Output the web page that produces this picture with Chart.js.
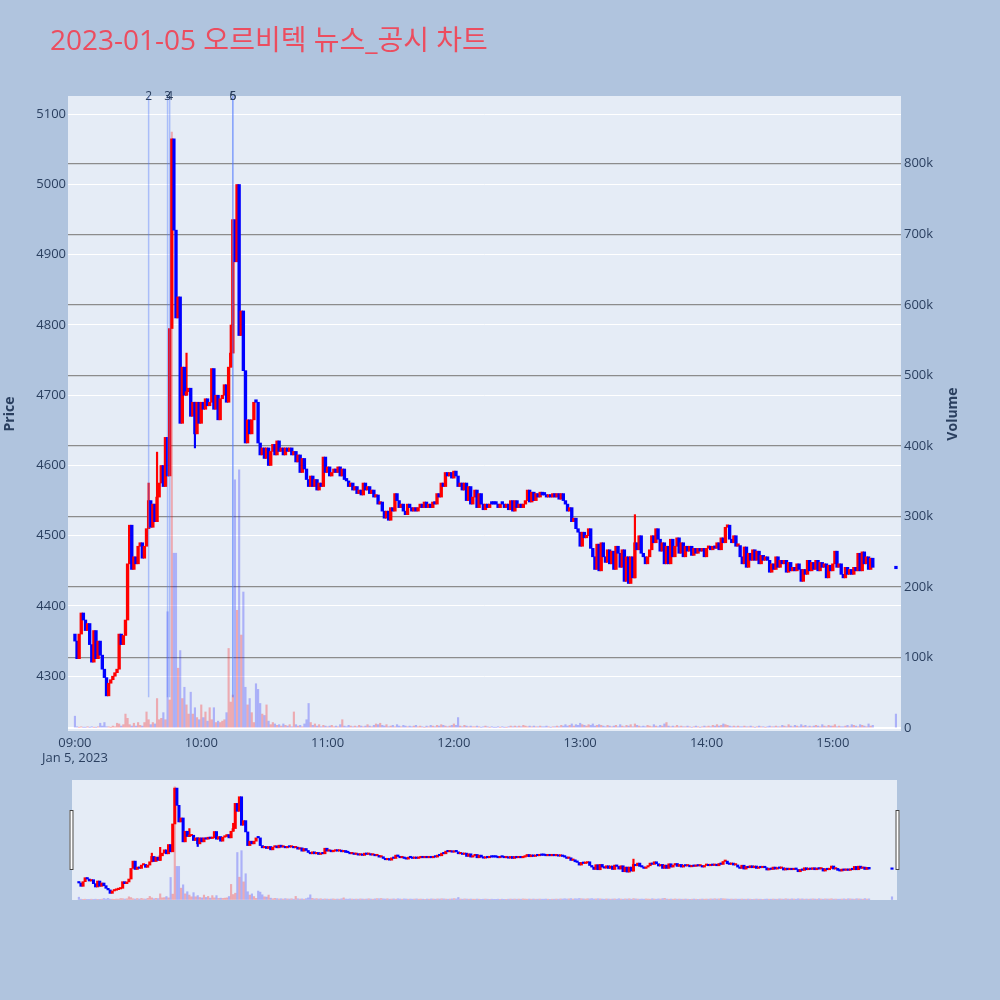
<!DOCTYPE html>
<html>
<head>
<meta charset="utf-8">
<script src="https://cdn.jsdelivr.net/npm/chart.js@4.4.0/dist/chart.umd.min.js"></script>
<style>
  html, body { margin: 0; padding: 0; background: #B0C4DE; }
  #wrap { position: relative; width: 1000px; height: 1000px; }
  #main { position: absolute; left: 0; top: 0; }
  #slider { position: absolute; left: 0; top: 770px; }
</style>
</head>
<body>
<div id="wrap">
  <canvas id="main" width="1000" height="800"></canvas>
  <canvas id="slider" width="1000" height="150"></canvas>
</div>
<script>
// 1분봉 데이터 (09:00 = 0분)
const chartTitle = '2023-01-05 오르비텍 뉴스_공시 차트';
const dateLabel = 'Jan 5, 2023';
const firstOpen = 4360;
const closes = [
  4350,4325,4360,4390,4380,4365,4375,4345,4320,4365,
  4325,4350,4330,4310,4298,4272,4290,4295,4300,4305,
  4310,4360,4345,4358,4380,4460,4515,4452,4470,4460,
  4485,4490,4468,4485,4510,4550,4512,4545,4520,4555,
  4575,4600,4570,4640,4585,4795,5065,4935,4810,4840,
  4660,4740,4700,4705,4710,4670,4690,4645,4690,4660,
  4690,4680,4695,4685,4690,4738,4680,4700,4665,4695,
  4700,4715,4690,4740,4760,4950,4890,5000,4785,4820,
  4735,4632,4665,4645,4665,4690,4690,4632,4615,4625,
  4610,4625,4600,4620,4630,4615,4635,4620,4625,4615,
  4625,4620,4625,4615,4620,4605,4615,4590,4610,4595,
  4580,4570,4585,4570,4580,4565,4575,4570,4612,4590,
  4598,4585,4590,4595,4590,4598,4585,4595,4580,4578,
  4570,4575,4565,4570,4560,4565,4558,4575,4565,4570,
  4560,4565,4555,4558,4545,4548,4535,4525,4535,4522,
  4540,4535,4560,4550,4540,4545,4535,4530,4545,4540,
  4535,4540,4535,4540,4545,4540,4548,4540,4545,4540,
  4548,4545,4560,4555,4575,4570,4590,4585,4590,4582,
  4592,4585,4570,4575,4565,4575,4550,4570,4545,4555,
  4565,4540,4560,4545,4537,4545,4540,4545,4545,4545,
  4545,4540,4545,4545,4540,4545,4537,4550,4535,4550,
  4540,4545,4540,4545,4550,4565,4548,4562,4550,4560,
  4555,4562,4558,4558,4555,4558,4555,4560,4555,4560,
  4552,4560,4550,4545,4535,4540,4520,4525,4510,4505,
  4485,4505,4497,4500,4510,4482,4470,4452,4488,4450,
  4490,4470,4462,4480,4460,4478,4452,4485,4475,4455,
  4480,4435,4470,4432,4470,4440,4490,4480,4500,4475,
  4470,4460,4470,4480,4500,4490,4510,4495,4478,4490,
  4460,4485,4460,4495,4470,4485,4497,4475,4490,4470,
  4485,4478,4485,4472,4482,4475,4482,4478,4482,4470,
  4482,4485,4480,4485,4482,4490,4480,4497,4490,4512,
  4515,4495,4490,4500,4485,4486,4470,4460,4484,4455,
  4475,4465,4480,4465,4478,4460,4472,4465,4470,4465,
  4448,4460,4452,4470,4455,4465,4460,4465,4448,4462,
  4450,4455,4450,4460,4452,4435,4452,4445,4465,4450,
  4462,4452,4465,4450,4462,4455,4460,4440,4458,4450,
  4460,4478,4455,4460,4445,4440,4455,4445,4452,4445,
  4455,4450,4475,4450,4477,4460,4470,4452,4468,4455
];
// 거래량 (천주)
const volumes = [
  17,2,1,2,1,1,2,1,2,1,
  1,2,7,3,8,2,2,1,3,2,
  7,6,3,5,20,14,5,3,7,3,
  8,4,3,8,23,12,5,8,6,42,
  12,14,22,12,165,40,845,248,248,85,
  110,42,58,33,20,51,20,29,15,12,
  33,15,23,10,29,12,29,8,10,8,
  10,12,22,113,37,47,352,167,366,132,
  193,58,33,42,22,8,63,55,35,20,
  18,33,10,5,8,6,4,5,3,6,
  4,3,5,2,23,5,3,4,2,6,
  12,35,8,4,6,3,5,2,4,3,
  2,3,4,2,3,2,5,12,3,2,
  4,3,2,3,2,4,3,2,3,5,
  3,2,4,6,5,7,4,3,5,2,
  3,4,2,5,3,2,4,3,2,3,
  2,3,4,2,3,2,1,3,2,4,
  3,2,4,3,5,4,3,2,3,4,
  6,4,15,3,2,4,3,2,3,2,
  2,3,2,1,2,3,2,1,2,1,
  1,2,1,2,1,1,2,3,2,3,
  2,3,2,4,3,2,3,2,3,2,
  2,3,2,2,3,2,1,2,2,3,
  2,4,3,5,3,4,6,3,5,4,
  7,5,4,3,5,4,6,3,4,5,
  4,3,2,4,3,2,3,4,2,5,
  3,2,4,3,5,2,6,4,3,2,
  3,2,4,3,2,5,3,2,4,3,
  6,8,3,2,3,2,4,2,3,2,
  2,3,2,1,2,3,2,1,2,3,
  2,3,2,4,3,5,3,4,6,5,
  4,3,2,3,2,3,2,2,3,2,
  2,3,2,1,2,3,2,2,1,2,
  3,2,2,3,2,2,4,3,2,5,
  3,2,4,3,2,5,3,4,2,3,
  2,3,4,3,2,5,3,2,4,3,
  3,5,2,3,2,2,3,4,2,5,
  4,3,2,5,4,3,2,6,3,4
];
// 15:30 동시호가
const auctionMinute = 390;
const auctionClose = 4453;
const auctionVolume = 20;
// 꼬리가 보이는 봉
const spikeMinutes = [35, 39, 53, 57, 74, 266];
const spikeHighs = [4575, 4619, 4760, null, 4800, 4530];
const spikeLows = [null, null, null, 4625, null, null];
// 뉴스/공시 시점
const newsMinutes = [35, 44, 45, 75, 75];
const newsLabels = ['2', '3', '4', '5', '6'];
const newsLineLow = 4270;
// 축 눈금
const priceTicks = [4300, 4400, 4500, 4600, 4700, 4800, 4900, 5000, 5100];
const volumeTicks = [0, 100, 200, 300, 400, 500, 600, 700, 800];
const timeTicks = ['09:00', '10:00', '11:00', '12:00', '13:00', '14:00', '15:00'];

const RED = '#FF0000', BLUE = '#0000FF';
const INK = '#2a3f5f';
const FONT = "'Open Sans', 'Noto Sans CJK KR', sans-serif";

const times = closes.map((_, i) => i).concat([auctionMinute]);
const allClose = closes.concat([auctionClose]);
const allVol = volumes.concat([auctionVolume]);
const opens = allClose.map((c, i) => i === 0 ? firstOpen : allClose[i - 1]);
const isUp = allClose.map((c, i) => c > opens[i]);

function buildDatasets(mini) {
    const sets = [];
    // 거래량
    sets.push({
        type: 'bar', yAxisID: 'y2', order: 1, grouped: false,
        data: times.map((t, i) => ({ x: t, y: allVol[i] })),
        backgroundColor: isUp.map(u => u ? 'rgba(255,0,0,0.28)' : 'rgba(0,0,255,0.25)'),
        barThickness: 1.5
    });
    // 몸통
    sets.push({
        type: 'bar', yAxisID: 'y', order: 2, grouped: false,
        data: times.map((t, i) => ({ x: t, y: [opens[i], allClose[i]] })),
        backgroundColor: isUp.map(u => u ? RED : BLUE),
        barThickness: mini ? 2.4 : 2.7,
        minBarLength: mini ? 1.5 : 2.5
    });
    // 꼬리
    sets.push({
        type: 'bar', yAxisID: 'y', order: 3, grouped: false,
        data: spikeMinutes.map((m, i) => {
            const lo = spikeLows[i] !== null ? spikeLows[i] : Math.min(opens[m], allClose[m]);
            const hi = spikeHighs[i] !== null ? spikeHighs[i] : Math.max(opens[m], allClose[m]);
            return { x: m, y: [lo, hi] };
        }),
        backgroundColor: spikeMinutes.map(m => isUp[m] ? RED : BLUE),
        barThickness: 1.5
    });
    if (!mini) {
        newsMinutes.forEach(m => {
            sets.push({
                type: 'line', yAxisID: 'y', order: 0,
                data: [{ x: m, y: newsLineLow }, { x: m, y: 5126 }],
                borderColor: 'rgba(80,120,255,0.4)', borderWidth: 1.5,
                pointRadius: 0
            });
        });
    }
    return sets;
}

const plotBg = {
    id: 'plotBg',
    beforeDraw(chart) {
        const a = chart.chartArea, c = chart.ctx;
        c.save();
        c.fillStyle = '#E5ECF6';
        c.fillRect(a.left, a.top, a.right - a.left, a.bottom - a.top);
        c.restore();
    }
};

const mainText = {
    id: 'mainText',
    afterDraw(chart) {
        const c = chart.ctx, a = chart.chartArea, x = chart.scales.x;
        c.save();
        c.fillStyle = '#EC4D5F';
        c.font = '28px ' + FONT;
        c.textBaseline = 'alphabetic';
        c.fillText(chartTitle, 50, 50);
        // 뉴스 번호
        c.fillStyle = INK;
        c.font = '12px ' + FONT;
        c.textAlign = 'center';
        c.textBaseline = 'middle';
        newsMinutes.forEach((m, i) => c.fillText(newsLabels[i], x.getPixelForValue(m), a.top + 1));
        // 축 제목
        c.font = 'bold 14px ' + FONT;
        c.save();
        c.translate(10, 414);
        c.rotate(-Math.PI / 2);
        c.fillText('Price', 0, 0);
        c.restore();
        c.save();
        c.translate(953, 414);
        c.rotate(-Math.PI / 2);
        c.fillText('Volume', 0, 0);
        c.restore();
        c.restore();
    }
};

new Chart(document.getElementById('main'), {
    type: 'bar',
    data: { datasets: buildDatasets(false) },
    options: {
        responsive: false, animation: false, devicePixelRatio: 1,
        layout: { padding: { top: 96, left: 0, right: 0, bottom: 0 } },
        plugins: { legend: { display: false }, tooltip: { enabled: false } },
        scales: {
            x: {
                type: 'linear', min: -3.3, max: 392.4, offset: false,
                grid: { display: false }, border: { display: false },
                afterBuildTicks: ax => { ax.ticks = timeTicks.map((_, i) => ({ value: i * 60 })); },
                afterFit: ax => { ax.height = 69; },
                ticks: {
                    autoSkip: false, maxRotation: 0, padding: -3, color: INK,
                    font: { family: FONT, size: 13, lineHeight: 1.15 },
                    callback: (v, i) => i === 0 ? [timeTicks[0], dateLabel] : timeTicks[i]
                }
            },
            y: {
                position: 'left', min: 4222, max: 5126,
                grid: { color: '#ffffff', lineWidth: 1, drawTicks: false },
                border: { display: false },
                afterBuildTicks: ax => { ax.ticks = priceTicks.map(v => ({ value: v })); },
                afterFit: ax => { ax.width = 68; },
                ticks: {
                    padding: 2, color: INK, font: { family: FONT, size: 13 },
                    callback: v => String(v)
                }
            },
            y2: {
                position: 'right', min: -4, max: 896,
                grid: {
                    drawTicks: false,
                    color: ctx => ctx.tick && ctx.tick.value === 0 ? '#ffffff' : '#8c8c8c',
                    lineWidth: ctx => ctx.tick && ctx.tick.value === 0 ? 2 : 1.3
                },
                border: { display: false },
                afterBuildTicks: ax => { ax.ticks = volumeTicks.map(v => ({ value: v })); },
                afterFit: ax => { ax.width = 99; },
                ticks: {
                    padding: 3, color: INK, font: { family: FONT, size: 13 },
                    callback: v => v === 0 ? '0' : v + 'k'
                }
            }
        }
    },
    plugins: [plotBg, mainText]
});

const sliderHandles = {
    id: 'sliderHandles',
    afterDraw(chart) {
        const c = chart.ctx, a = chart.chartArea;
        c.save();
        c.fillStyle = '#ffffff';
        c.strokeStyle = '#444444';
        c.lineWidth = 1;
        [a.left - 2.5, a.right - 1.5].forEach(x => {
            c.fillRect(x, a.top + 30, 4, 60);
            c.strokeRect(x + 0.5, a.top + 30.5, 3, 59);
        });
        c.restore();
    }
};

new Chart(document.getElementById('slider'), {
    type: 'bar',
    data: { datasets: buildDatasets(true) },
    options: {
        responsive: false, animation: false, devicePixelRatio: 1,
        layout: { padding: { top: 10, left: 72, right: 103, bottom: 20 } },
        plugins: { legend: { display: false }, tooltip: { enabled: false } },
        scales: {
            x: { type: 'linear', display: false, min: -3.3, max: 392.4, offset: false },
            y: { display: false, min: 4222, max: 5126 },
            y2: { display: false, min: -4, max: 896 }
        }
    },
    plugins: [plotBg, sliderHandles]
});
</script>
</body>
</html>
